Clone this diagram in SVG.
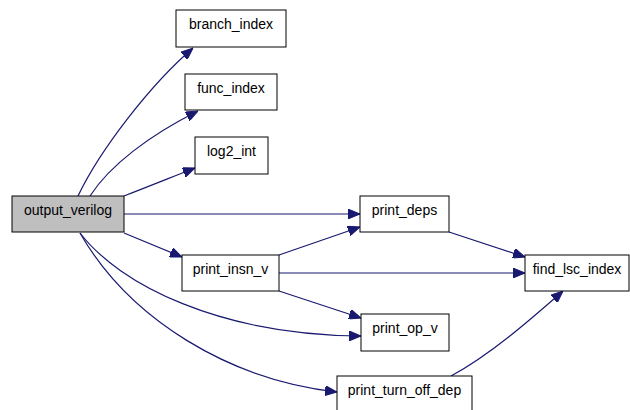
<svg xmlns="http://www.w3.org/2000/svg" width="630" height="410" viewBox="0 0 630 410">
<style>
.n rect{fill:#ffffff;stroke:#000000;stroke-width:1}
.n text{font-family:"Liberation Sans",Arial,sans-serif;font-size:14px;fill:#000000;text-anchor:middle}
.e path{fill:none;stroke:#191970;stroke-width:1.2;marker-end:url(#a)}
</style>
<defs>
<marker id="a" markerUnits="userSpaceOnUse" markerWidth="12" markerHeight="10" viewBox="0 0 12 10" refX="12" refY="5" orient="auto">
<path d="M0,0 L12,5 L0,10 Z" fill="#191970" stroke="#191970"/>
</marker>
</defs>
<rect width="630" height="410" fill="#ffffff"/>
<g class="e" id="connectors">
<path d="M78,196 C100,150 150,85 193,48"/>
<path d="M90,196 C110,165 150,135 198,111"/>
<path d="M124,196 C150,186 172,177 195,168"/>
<path d="M124,214 L360,214"/>
<path d="M124,233 L182,257"/>
<path d="M80,233 C120,285 220,335 361,336"/>
<path d="M80,233 C130,320 230,380 337,392"/>
<path d="M279,255 L360,227"/>
<path d="M279,273 L525,273"/>
<path d="M279,291 L361,318"/>
<path d="M449,232 L525,257"/>
<path d="M451,376 C490,355 530,320 563,291"/>
</g>
<g class="n" id="output_verilog"><rect x="12" y="196" width="112" height="36" style="fill:#bfbfbf"/><text x="68" y="215">output_verilog</text></g>
<g class="n" id="branch_index"><rect x="176" y="10" width="110" height="37"/><text x="231" y="29">branch_index</text></g>
<g class="n" id="func_index"><rect x="185" y="74" width="92" height="36"/><text x="231" y="93">func_index</text></g>
<g class="n" id="log2_int"><rect x="195" y="137" width="73" height="37"/><text x="231.5" y="156">log2_int</text></g>
<g class="n" id="print_deps"><rect x="360" y="196" width="89" height="36"/><text x="404.5" y="215">print_deps</text></g>
<g class="n" id="print_insn_v"><rect x="182" y="255" width="97" height="36"/><text x="230.5" y="274">print_insn_v</text></g>
<g class="n" id="find_lsc_index"><rect x="525" y="255" width="104" height="36"/><text x="577" y="274">find_lsc_index</text></g>
<g class="n" id="print_op_v"><rect x="361" y="314" width="88" height="37"/><text x="405" y="333">print_op_v</text></g>
<g class="n" id="print_turn_off_dep"><rect x="337" y="376" width="135" height="36"/><text x="404.5" y="395">print_turn_off_dep</text></g>
</svg>
